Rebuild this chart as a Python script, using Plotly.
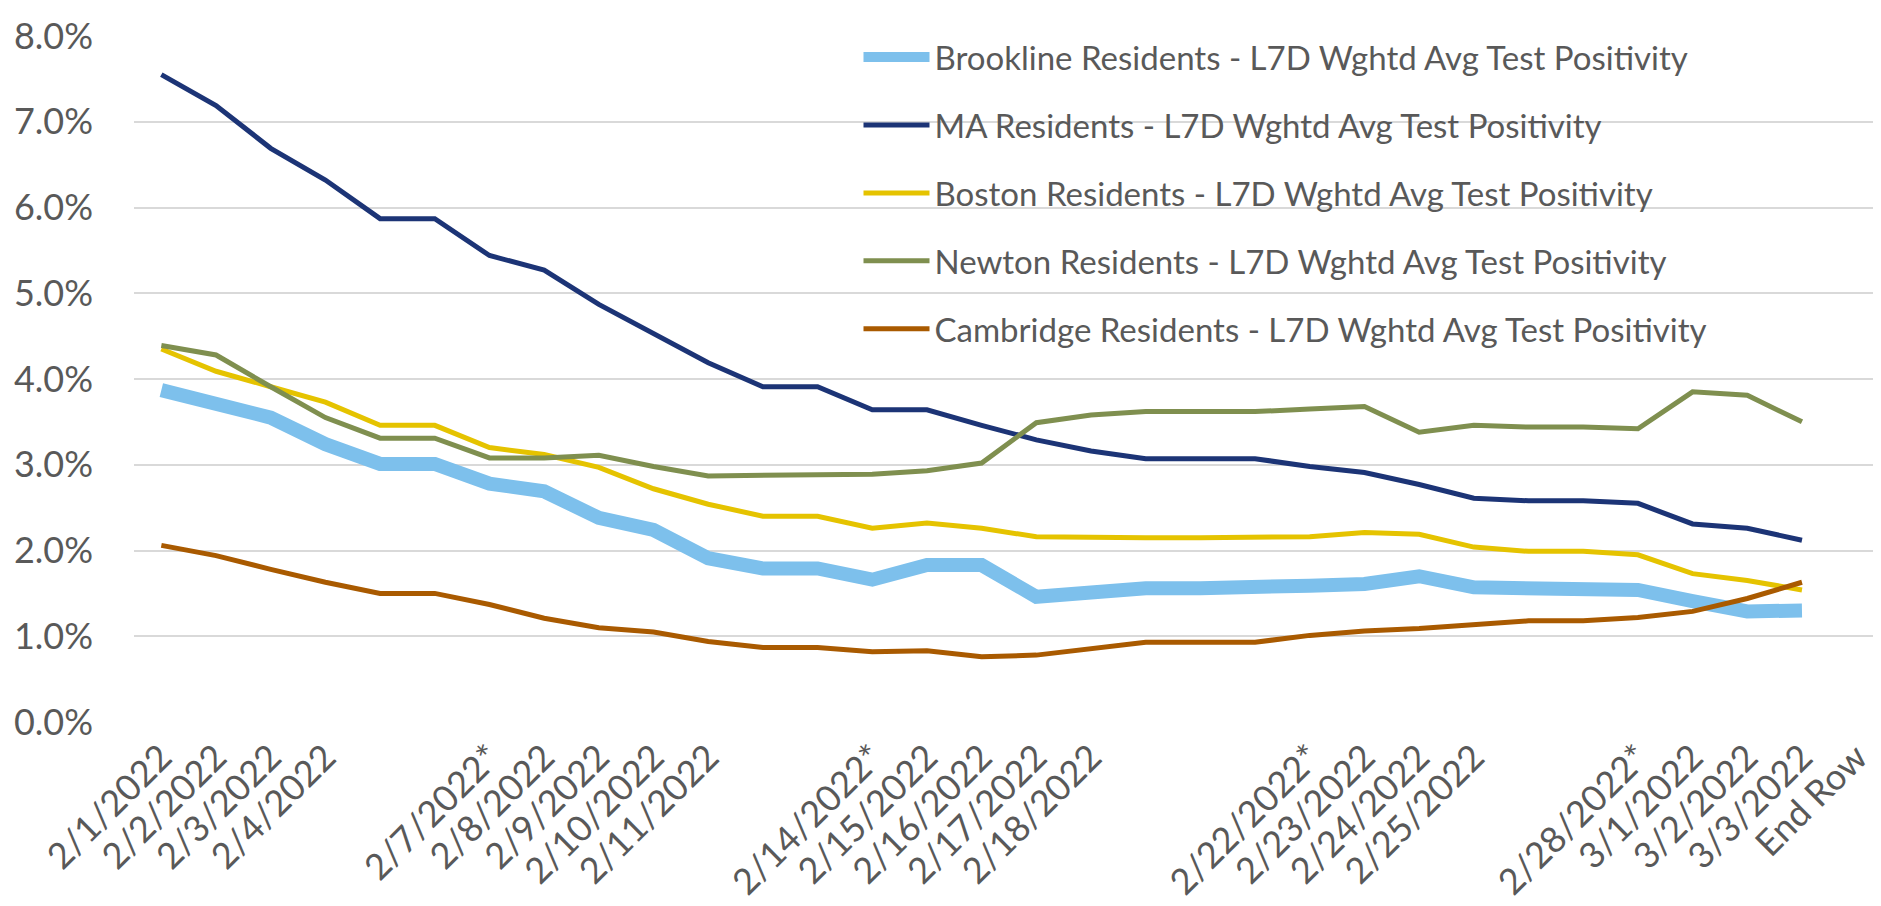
"""Brookline vs. neighbours: L7D weighted average test positivity"""

import plotly.graph_objects as go

# one category per calendar day; weekends / holiday keep a blank tick label
categories = [
    "2/1/2022", "2/2/2022", "2/3/2022", "2/4/2022", "2/5/2022", "2/6/2022",
    "2/7/2022", "2/8/2022", "2/9/2022", "2/10/2022", "2/11/2022", "2/12/2022",
    "2/13/2022", "2/14/2022", "2/15/2022", "2/16/2022", "2/17/2022", "2/18/2022",
    "2/19/2022", "2/20/2022", "2/21/2022", "2/22/2022", "2/23/2022", "2/24/2022",
    "2/25/2022", "2/26/2022", "2/27/2022", "2/28/2022", "3/1/2022", "3/2/2022",
    "3/3/2022", "End Row",
]
tick_labels = [
    "2/1/2022", "2/2/2022", "2/3/2022", "2/4/2022", "", "",
    "2/7/2022*", "2/8/2022", "2/9/2022", "2/10/2022", "2/11/2022", "",
    "", "2/14/2022*", "2/15/2022", "2/16/2022", "2/17/2022", "2/18/2022",
    "", "", "", "2/22/2022*", "2/23/2022", "2/24/2022",
    "2/25/2022", "", "", "2/28/2022*", "3/1/2022", "3/2/2022",
    "3/3/2022", "End Row",
]

# values in percent, None for the "End Row" placeholder
brookline = [3.87, 3.70, 3.55, 3.24, 3.01, 3.01, 2.78, 2.69, 2.38, 2.24, 1.91, 1.79, 1.79, 1.66, 1.83, 1.83,
             1.46, 1.51, 1.56, 1.56, 1.56, 1.59, 1.61, 1.70, 1.57, 1.56, 1.56, 1.54, 1.41, 1.29, 1.30, None]
ma = [7.55, 7.19, 6.69, 6.32, 5.87, 5.87, 5.44, 5.27, 4.87, 4.53, 4.19, 3.91, 3.91, 3.64, 3.64, 3.46,
      3.29, 3.16, 3.07, 3.07, 3.07, 2.98, 2.91, 2.77, 2.61, 2.58, 2.58, 2.55, 2.31, 2.26, 2.12, None]
boston = [4.35, 4.09, 3.91, 3.73, 3.46, 3.46, 3.20, 3.12, 2.97, 2.72, 2.54, 2.40, 2.40, 2.26, 2.32, 2.26,
          2.16, 2.15, 2.15, 2.15, 2.15, 2.16, 2.21, 2.19, 2.04, 1.99, 1.99, 1.95, 1.73, 1.65, 1.54, None]
newton = [4.39, 4.28, 3.91, 3.55, 3.31, 3.31, 3.08, 3.08, 3.11, 2.98, 2.87, 2.88, 2.88, 2.89, 2.93, 3.02,
          3.49, 3.58, 3.62, 3.62, 3.62, 3.65, 3.68, 3.38, 3.46, 3.44, 3.44, 3.42, 3.85, 3.81, 3.50, None]
cambridge = [2.06, 1.94, 1.78, 1.63, 1.50, 1.50, 1.37, 1.21, 1.10, 1.05, 0.94, 0.87, 0.87, 0.82, 0.83, 0.76,
             0.78, 0.85, 0.93, 0.93, 0.93, 1.01, 1.06, 1.09, 1.14, 1.18, 1.18, 1.22, 1.29, 1.44, 1.63, None]

series = [
    ("Brookline Residents - L7D Wghtd Avg Test Positivity", brookline, "#7DC0EC", 14),
    ("MA Residents - L7D Wghtd Avg Test Positivity", ma, "#1C3476", 5),
    ("Boston Residents - L7D Wghtd Avg Test Positivity", boston, "#E5C300", 5),
    ("Newton Residents - L7D Wghtd Avg Test Positivity", newton, "#7F8F4F", 5),
    ("Cambridge Residents - L7D Wghtd Avg Test Positivity", cambridge, "#A95A00", 5),
]

FONT = "Lato, 'Open Sans', sans-serif"
TEXT_COLOR = "#595959"

fig = go.Figure()
for name, values, color, width in series:
    fig.add_trace(go.Scatter(
        x=categories,
        y=[v / 100 if v is not None else None for v in values],
        mode="lines",
        name=name,
        legendgroup=name,
        line=dict(color=color, width=width),
    ))

fig.update_layout(
    width=1881,
    height=906,
    margin=dict(l=126, r=5, t=28, b=192),
    plot_bgcolor="white",
    paper_bgcolor="white",
    font=dict(family=FONT, color=TEXT_COLOR),
    legend=dict(
        x=0.414, y=1.01, xanchor="left", yanchor="top",
        font=dict(size=33, color=TEXT_COLOR),
        bgcolor="rgba(0,0,0,0)",
        traceorder="grouped",
        tracegroupgap=22,
        itemwidth=66,
    ),
    xaxis=dict(
        type="category",
        categoryorder="array",
        categoryarray=categories,
        tickvals=categories,
        ticktext=tick_labels,
        tickangle=-45,
        tickfont=dict(size=36, color=TEXT_COLOR),
        range=[-0.5, len(categories) - 0.5],
        showgrid=False,
        showline=False,
        ticks="",
        ticklabelstandoff=6,
    ),
    yaxis=dict(
        range=[0, 0.08],
        dtick=0.01,
        tickformat=".1%",
        tickfont=dict(size=36, color=TEXT_COLOR),
        gridcolor="#D9D9D9",
        gridwidth=2,
        zeroline=False,
        showline=False,
        ticks="",
        ticklabelstandoff=40,
    ),
)

fig.write_html("out.html")
